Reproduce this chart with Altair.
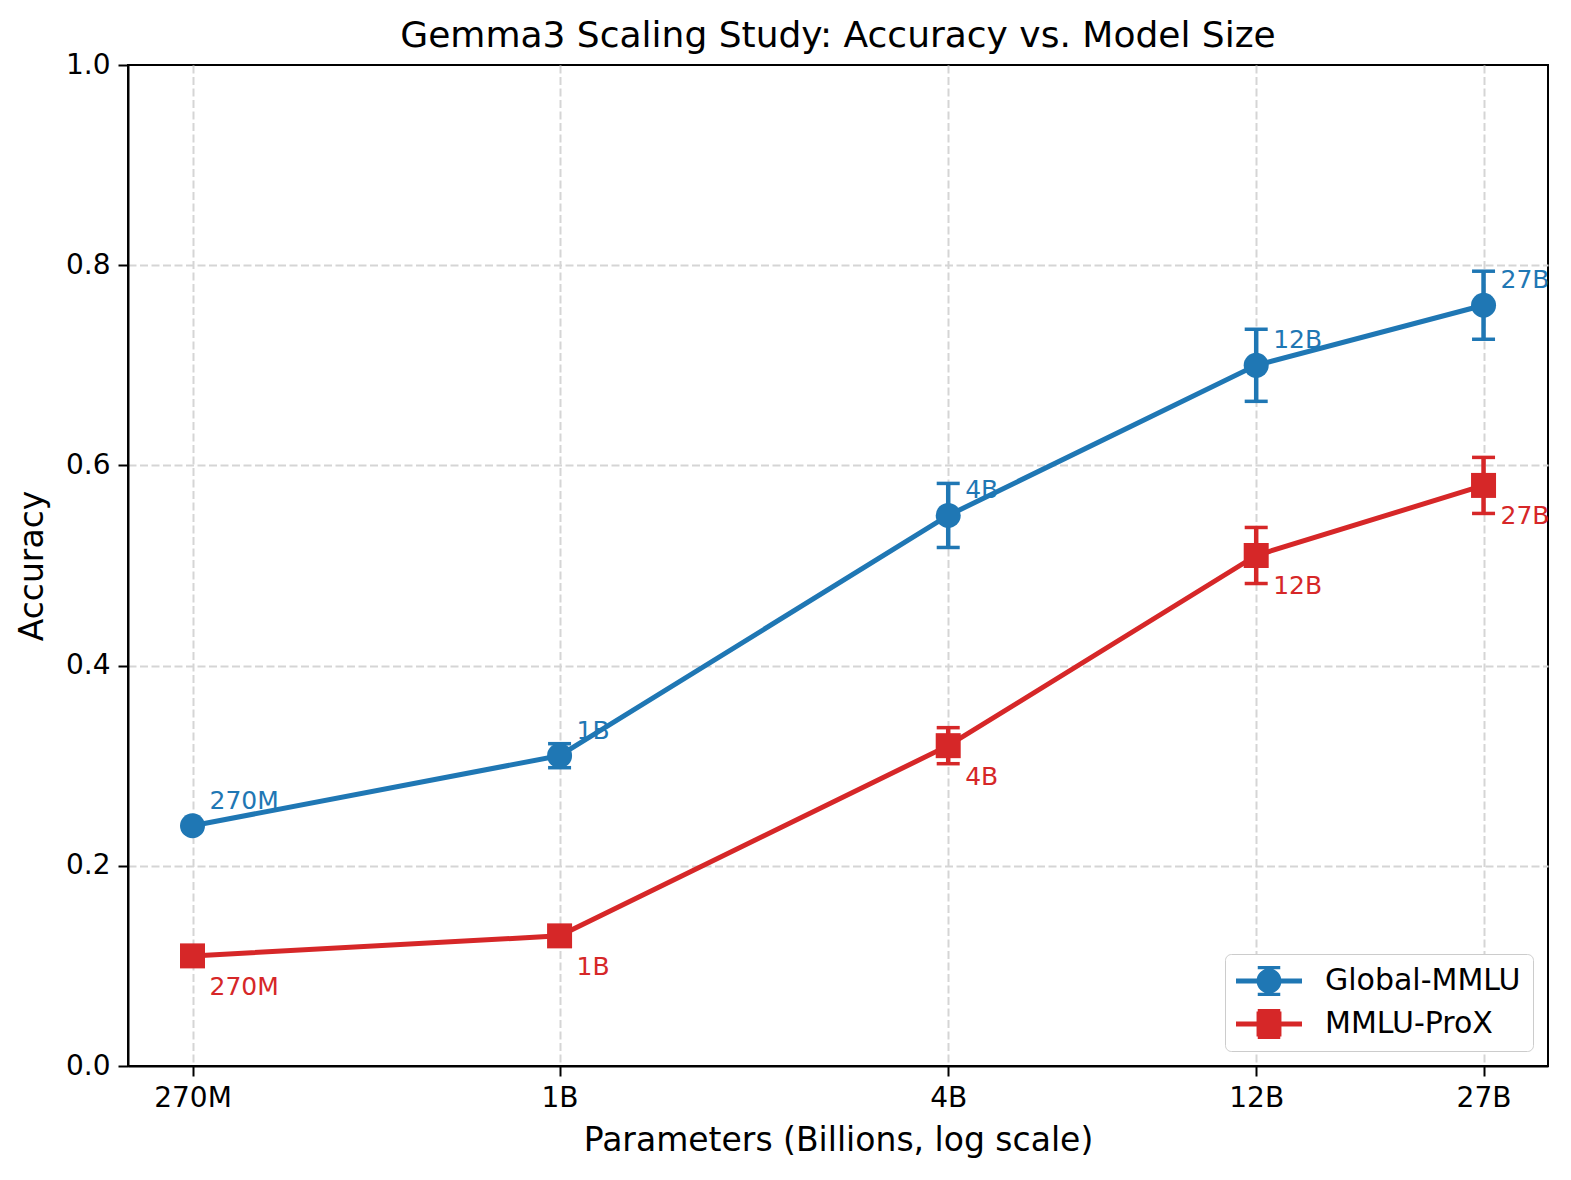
import altair as alt
import pandas as pd

# ---- data ----
params = [0.27, 1, 4, 12, 27]
size_labels = ["270M", "1B", "4B", "12B", "27B"]
series_names = ["Global-MMLU", "MMLU-ProX"]
global_acc = [0.24, 0.31, 0.55, 0.70, 0.76]
global_err = [0.0, 0.012, 0.032, 0.036, 0.034]
prox_acc = [0.11, 0.13, 0.32, 0.51, 0.58]
prox_err = [0.0, 0.003, 0.018, 0.028, 0.028]
colors = ["#1f77b4", "#d62728"]

rows = []
for name, accs, errs in [(series_names[0], global_acc, global_err),
                         (series_names[1], prox_acc, prox_err)]:
    for p, lab, a, e in zip(params, size_labels, accs, errs):
        rows.append({"series": name, "params": p, "label": lab, "acc": a,
                     "lo": a - e, "hi": a + e})
df = pd.DataFrame(rows)

FONT = "DejaVu Sans"

label_expr = ""
for p, lab in zip(params, size_labels):
    label_expr += f"datum.value == {p} ? '{lab}' : "
label_expr += "''"

x_enc = alt.X("params:Q",
              scale=alt.Scale(type="log", domain=[0.2145, 33.98], nice=False),
              axis=alt.Axis(values=params, labelExpr=label_expr,
                            title="Parameters (Billions, log scale)"))
y_enc = alt.Y("acc:Q", scale=alt.Scale(domain=[0, 1], nice=False),
              axis=alt.Axis(values=[0, 0.2, 0.4, 0.6, 0.8, 1.0], format=".1f",
                            title="Accuracy",
                            gridOpacity=alt.condition("datum.value >= 1 || datum.value <= 0",
                                                      alt.value(0), alt.value(1))))
color_scale = alt.Scale(domain=series_names, range=colors)


# legend symbols: line + errorbar + marker (unit = 15px for size 900)
def rect(x0, y0, x1, y1):
    return f"M{x0},{y0}H{x1}V{y1}H{x0}Z"


base_sym = (rect(-2.2, -0.17, 2.2, 0.17) + rect(-0.15, -1, 0.15, 1)
            + rect(-0.75, -1, 0.75, -0.78) + rect(-0.75, 0.78, 0.75, 1))
r = 0.83
circle_sym = base_sym + f"M{-r},0A{r},{r} 0 1 1 {r},0A{r},{r} 0 1 1 {-r},0Z"
square_sym = base_sym + rect(-r, -r, r, r)

legend_def = alt.Legend(
    title=None, orient="none", legendX=1097, legendY=889,
    symbolSize=900, symbolStrokeWidth=0, symbolOpacity=1,
    symbolOffset=17, labelOffset=41, labelLimit=400,
    labelFont=FONT, labelFontSize=30, labelColor="black",
    rowPadding=13, padding=12,
    strokeColor="#cccccc", fillColor="white", cornerRadius=6,
)

base = alt.Chart(df)
col = alt.Color("series:N", scale=color_scale)

# legend-source layer (draws no marks; its scales give the legend entries)
legend_layer = base.transform_filter("false").mark_point(
    filled=True, size=900, opacity=1
).encode(
    x=x_enc, y=y_enc,
    color=alt.Color("series:N", scale=color_scale, legend=legend_def),
    shape=alt.Shape("series:N",
                    scale=alt.Scale(domain=series_names, range=[circle_sym, square_sym]),
                    legend=legend_def),
)

lines = base.mark_line(strokeWidth=5, opacity=1).encode(
    x="params:Q", y="acc:Q", color=col, detail="series:N")

bars = base.mark_rule(strokeWidth=4.5, opacity=1).encode(
    x="params:Q", y="lo:Q", y2="hi:Q", color=col)

caps_lo = base.mark_tick(orient="horizontal", size=23, thickness=3.5, opacity=1).encode(
    x="params:Q", y="lo:Q", color=col)
caps_hi = base.mark_tick(orient="horizontal", size=23, thickness=3.5, opacity=1).encode(
    x="params:Q", y="hi:Q", color=col)

pts_circle = base.transform_filter(alt.datum.series == series_names[0]).mark_point(
    shape="circle", filled=True, size=625, opacity=1
).encode(x="params:Q", y="acc:Q", color=col)
pts_square = base.transform_filter(alt.datum.series == series_names[1]).mark_point(
    shape="square", filled=True, size=625, opacity=1
).encode(x="params:Q", y="acc:Q", color=col)

text_top = base.transform_filter(alt.datum.series == series_names[0]).mark_text(
    align="left", baseline="alphabetic", dx=17, dy=-17, fontSize=25, font=FONT, opacity=1
).encode(x="params:Q", y="acc:Q", text="label:N", color=col)
text_bot = base.transform_filter(alt.datum.series == series_names[1]).mark_text(
    align="left", baseline="alphabetic", dx=17, dy=39, fontSize=25, font=FONT, opacity=1
).encode(x="params:Q", y="acc:Q", text="label:N", color=col)

chart = alt.layer(legend_layer, lines, bars, caps_lo, caps_hi, pts_circle, pts_square,
                  text_top, text_bot).properties(
    width=1420, height=1001,
    autosize=alt.AutoSizeParams(type="none"),
    padding={"left": 128, "top": 65, "right": 23, "bottom": 114},
    title=alt.TitleParams("Gemma3 Scaling Study: Accuracy vs. Model Size",
                          font=FONT, fontSize=36, fontWeight="normal",
                          color="black", anchor="middle", offset=0, dy=4),
).configure(background="white").configure_view(
    stroke="black", strokeWidth=2
).configure_axis(
    labelFont=FONT, labelFontSize=28, labelColor="black",
    titleFont=FONT, titleFontSize=33, titleFontWeight="normal", titleColor="black",
    domainColor="black", domainWidth=2, tickColor="black", tickWidth=2, tickSize=10,
    labelPadding=8, grid=True, gridColor="#d5d5d5", gridWidth=2, gridDash=[8, 3.5],
).configure_axisX(titlePadding=12).configure_axisY(titlePadding=16)

chart.save("out.html", embed_options={"renderer": "svg", "actions": False})
